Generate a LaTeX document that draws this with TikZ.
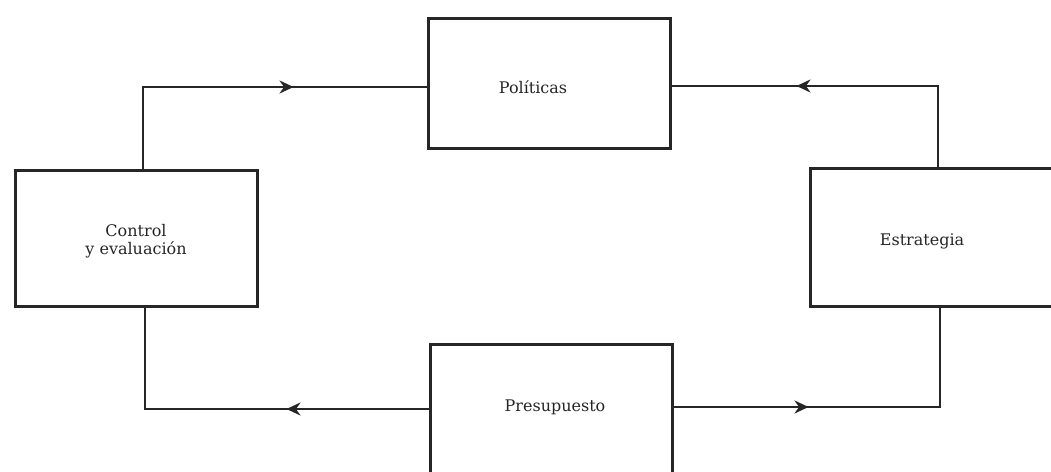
\documentclass[tikz,border=0pt]{standalone}
\usepackage{fontspec}
\setmainfont{DejaVu Serif}
\usetikzlibrary{arrows.meta,decorations.markings}
\tikzset{
  box/.style={draw=black!85, line width=3pt, minimum width=242pt, inner sep=0pt},
  lbl/.style={font=\fontsize{16}{18}\selectfont, align=center, text=black!85},
  conn/.style={draw=black!85, line width=2.8pt},
  arrat/.style={postaction={decorate, decoration={markings,
      mark=at position #1 with {\arrow{Stealth[length=14pt,width=13pt]}}}}}
}
\begin{document}
\begin{tikzpicture}[x=1pt,y=-1pt]
\useasboundingbox (0,0) rectangle (1051,471);
\clip (0,0) rectangle (1051,471);
\fill[white] (0,0) rectangle (1051,471);
\node[box, minimum height=130pt] (pol) at (549,83) {};
\node[box, minimum height=136pt] (ctl) at (136,238) {};
\node[box, minimum height=138pt, minimum width=262pt] (str) at (941,237) {};
\node[box, minimum height=135pt] (pre) at (551,412) {};
\node[lbl] (polt) at (533,87) {Políticas};
\node[lbl] (ctlt) at (136,241) {Control\\y evaluación};
\node[lbl] (strt) at (922,241) {Estrategia};
\node[lbl] (pret) at (555,407) {Presupuesto};
\draw[conn, arrat=232pt] ([xshift=7pt]ctl.north) |- ([yshift=-4pt]pol.west);
\draw[conn, arrat=222pt] ([xshift=-3pt]str.north) |- ([yshift=-3pt]pol.east);
\draw[conn, arrat=135pt] ([yshift=5pt]pre.east) -| ([xshift=-1pt]str.south);
\draw[conn, arrat=142pt] ([yshift=3pt]pre.west) -| ([xshift=9pt]ctl.south);
\end{tikzpicture}
\end{document}
